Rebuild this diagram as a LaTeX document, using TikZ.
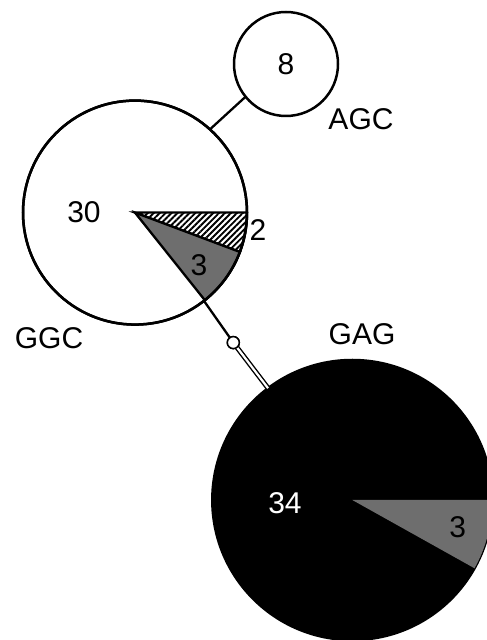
\documentclass[tikz,border=0pt]{standalone}
\usepackage{fontspec}
\setmainfont{Liberation Sans}
\usetikzlibrary{patterns.meta}
\definecolor{wedgegrey}{RGB}{110,110,110}
\tikzset{
  x=1pt, y=1pt,
  hap/.style={circle, draw=black, line width=2.5pt, fill=white, inner sep=0pt, outer sep=0pt},
  lbl/.style={inner sep=0pt, font=\fontsize{30}{32}\selectfont},
  link/.style={line width=2.3pt},
  mutdot/.style={circle, draw=black, line width=1.5pt, fill=white, inner sep=0pt, outer sep=0pt, minimum size=12pt},
  dbl/.style={line width=1.4pt, double=white, double distance=2.2pt},
}
\begin{document}
\begin{tikzpicture}
\useasboundingbox (0,0) rectangle (487,640);
\clip (0,0) rectangle (487,640);
% GAG haplotype
\node[hap, fill=black, minimum size=280pt] (GAG) at (352.3,140) {};
\fill[wedgegrey] (GAG.center) -- ++(0:140) arc[start angle=0, end angle=-29.19, radius=140] -- cycle;
% GGC haplotype
\node[hap, minimum size=224pt] (GGC) at (135,427.4) {};
\draw[line width=2.3pt, pattern={Lines[angle=45, distance=4.2pt, line width=1.9pt]}]
  (GGC.center) -- ++(0:112) arc[start angle=0, end angle=-20.57, radius=112] -- cycle;
\draw[line width=2.3pt, fill=wedgegrey]
  (GGC.center) -- ++(-20.57:112) arc[start angle=-20.57, end angle=-51.43, radius=112] -- cycle;
\draw[line width=2.5pt] (GGC.center) circle[radius=112];
% AGC haplotype
\node[hap, minimum size=104pt, lbl] (AGC) at (286,576) {8};
% connectors
\draw[link] (GGC.48.4) -- (AGC.219.4);
\node[mutdot] (m1) at (233.3,297.4) {};
\draw[link] (GGC.-52.9) -- (m1);
\draw[dbl] (m1) -- (GAG.127.1);
\node[mutdot] at (m1) {};
% labels
\node[lbl] (tAGC) at (361,521) {AGC};
\node[lbl] (t30) at (84,428) {30};
\node[lbl] (t2) at (258,410) {2};
\node[lbl] (t3a) at (199,375) {3};
\node[lbl] (tGGC) at (49,302) {GGC};
\node[lbl] (tGAG) at (362,306) {GAG};
\node[lbl, text=white] (t34) at (285,136.7) {34};
\node[lbl] (t3b) at (457.7,113.3) {3};
\end{tikzpicture}
\end{document}
